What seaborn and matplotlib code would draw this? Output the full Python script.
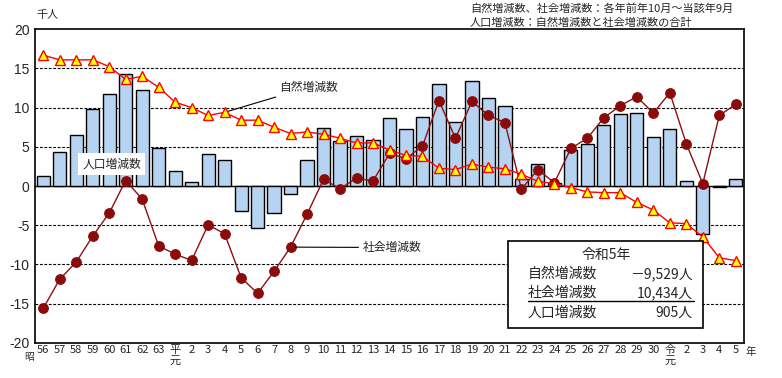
import numpy as np
import pandas as pd
import matplotlib
matplotlib.use("Agg")
import matplotlib.pyplot as plt
import seaborn as sns

sns.set_theme(style="white")
plt.rcParams["font.family"] = ["Noto Sans CJK JP", "DejaVu Sans"]

#%% Data (千人)

year_labels = (["56", "57", "58", "59", "60", "61", "62", "63"]
               + ["平\n元"] + [str(i) for i in range(2, 31)]
               + ["令\n元", "2", "3", "4", "5"])

natural = [16.7, 16.1, 16.1, 16.1, 15.25, 13.6, 14.0, 12.6,
           10.7, 10.0, 9.0, 9.4, 8.4, 8.4, 7.5, 6.7, 6.9, 6.6, 6.1, 5.5,
           5.5, 4.6, 3.9, 3.8, 2.25, 2.1, 2.8, 2.4, 2.2, 1.5, 0.6, 0.3,
           -0.2, -0.75, -0.85, -0.85, -2.1, -3.05,
           -4.7, -4.8, -6.5, -9.15, -9.529]

social = [-15.6, -11.9, -9.7, -6.4, -3.46, 0.7, -1.67, -7.65,
          -8.7, -9.5, -4.96, -6.1, -11.7, -13.7, -10.9, -7.8, -3.6, 0.85,
          -0.35, 1.0, 0.64, 4.15, 3.5, 5.1, 10.9, 6.1, 10.8, 9.0, 8.1,
          -0.4, 2.1, 0.4, 4.8, 6.1, 8.7, 10.25, 11.4, 9.3,
          11.9, 5.4, 0.3, 9.0, 10.434]

total = [1.3, 4.4, 6.5, 9.8, 11.7, 14.3, 12.2, 4.9,
         1.95, 0.55, 4.1, 3.35, -3.25, -5.4, -3.5, -1.07, 3.35, 7.4, 5.8,
         6.4, 5.9, 8.7, 7.3, 8.8, 13.0, 8.2, 13.4, 11.2, 10.2, 0.93, 2.75,
         0.42, 4.6, 5.3, 7.8, 9.2, 9.3, 6.3,
         7.3, 0.68, -6.14, -0.16, 0.905]

df = pd.DataFrame({"idx": np.arange(len(year_labels)),
                   "natural": natural, "social": social, "total": total})

#%% Plot

fig = plt.figure(figsize=(7.82, 3.78), dpi=100)
ax = fig.add_axes([35 / 782, 1 - 342.7 / 378, 709 / 782, 313.4 / 378])

for v in [-15, -10, -5, 5, 10, 15]:
    ax.axhline(v, color="black", linestyle=(0, (2.5, 1.5)), linewidth=0.8, zorder=0)
ax.axhline(0, color="black", linewidth=1, zorder=1)

sns.barplot(data=df, x="idx", y="total", color="#b6d3f2", saturation=1,
            edgecolor="black", linewidth=1, width=0.8, ax=ax, zorder=2)

sns.lineplot(data=df, x="idx", y="social", color="#8b1010", linewidth=1,
             marker="o", markersize=7, markerfacecolor="#8b0a0a",
             markeredgecolor="#8b0a0a", ax=ax, zorder=3)
sns.lineplot(data=df, x="idx", y="natural", color="red", linewidth=1,
             marker="^", markersize=7.5, markerfacecolor="yellow",
             markeredgecolor="red", markeredgewidth=1, ax=ax, zorder=4)

ax.set_xlim(-0.5, len(year_labels) - 0.5)
ax.set_ylim(-20, 20)
ax.set_yticks(range(-20, 21, 5))
ax.set_yticklabels([str(v) for v in range(-20, 21, 5)], fontsize=10,
                   family=["Liberation Sans", "DejaVu Sans"])
ax.set_xticks(df["idx"])
ax.set_xticklabels(year_labels, fontsize=8, linespacing=1.1)
ax.tick_params(axis="both", length=0, pad=2)
ax.tick_params(axis="y", pad=4)
ax.set_xlabel("")
ax.set_ylabel("")
for s in ax.spines.values():
    s.set_color("black")
    s.set_linewidth(1.2)

#%% Labels

ax.annotate("自然増減数", xy=(11, 9.4), xytext=(14.3, 12.6), fontsize=8.5,
            ha="left", va="center",
            arrowprops=dict(arrowstyle="-", color="black", linewidth=0.8,
                            shrinkA=0, shrinkB=2))
ax.annotate("社会増減数", xy=(15, -7.8), xytext=(19.4, -7.85), fontsize=8.5,
            ha="left", va="center",
            arrowprops=dict(arrowstyle="-", color="black", linewidth=0.8,
                            shrinkA=1, shrinkB=3))
ax.text(4.15, 2.8, "人口増減数", fontsize=8.5, ha="center", va="center", zorder=5,
        bbox=dict(facecolor="white", edgecolor="none", pad=3))

# info box
ax.add_patch(plt.Rectangle((0.667, 0.047), 0.275, 0.278, transform=ax.transAxes,
                           facecolor="white", edgecolor="black", linewidth=1.2, zorder=6))
fig.text(606 / 782, 1 - 255 / 378, "令和5年", fontsize=10,
         ha="center", va="center", zorder=7)
box_rows = [("自然増減数", "－9,529人", 274), ("社会増減数", "10,434人", 293),
            ("人口増減数", "905人", 313)]
for name, val, y in box_rows:
    fig.text(528 / 782, 1 - y / 378, name, fontsize=10,
             ha="left", va="center", zorder=7)
    fig.text(693 / 782, 1 - y / 378, val, fontsize=10,
             ha="right", va="center", zorder=7)
fig.add_artist(plt.Line2D([528 / 782, 694 / 782], [1 - 301 / 378, 1 - 301 / 378],
                          color="black", linewidth=1, zorder=7))

fig.text(36 / 782, 1 - 15 / 378, "千人", fontsize=8, ha="left", va="center")
fig.text(470 / 782, 1 - 8 / 378, "自然増減数、社会増減数：各年前年10月～当該年9月",
         fontsize=8, ha="left", va="center")
fig.text(470 / 782, 1 - 23 / 378, "人口増減数：自然増減数と社会増減数の合計",
         fontsize=8, ha="left", va="center")
fig.text(29 / 782, 1 - 357 / 378, "昭", fontsize=7, ha="center", va="center")
fig.text(751 / 782, 1 - 352 / 378, "年", fontsize=7.5, ha="center", va="center")

fig.savefig("out.png", dpi=100)
